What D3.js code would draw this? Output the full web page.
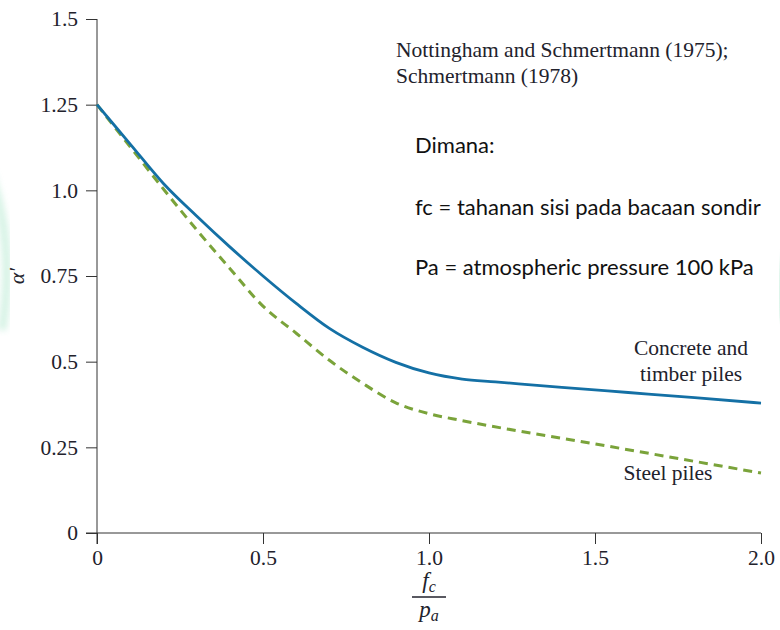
<!DOCTYPE html>
<html>
<head>
<meta charset="utf-8">
<script src="https://cdn.jsdelivr.net/npm/d3@7"></script>
<style>
  body { margin: 0; background: #fff; }
  svg { display: block; }
</style>
</head>
<body>
<svg></svg>
<script>
// alpha' vs fc/pa (Nottingham and Schmertmann 1975; Schmertmann 1978)

const xTicks = [0, 0.5, 1.0, 1.5, 2.0];
const xTickLabels = ["0", "0.5", "1.0", "1.5", "2.0"];
const yTicks = [0, 0.25, 0.5, 0.75, 1.0, 1.25, 1.5];
const yTickLabels = ["0", "0.25", "0.5", "0.75", "1.0", "1.25", "1.5"];

// concrete and timber piles (solid blue)
const concreteX = [0, 0.1, 0.2, 0.3, 0.4, 0.5, 0.6, 0.7, 0.8, 0.9, 1.0, 1.1, 1.2, 1.4, 1.6, 1.8, 2.0];
const concreteY = [1.25, 1.135, 1.02, 0.925, 0.835, 0.75, 0.67, 0.597, 0.542, 0.498, 0.467, 0.449, 0.441, 0.425, 0.41, 0.395, 0.379];

// steel piles (dashed green)
const steelX = [0, 0.1, 0.2, 0.3, 0.4, 0.5, 0.6, 0.7, 0.8, 0.9, 1.0, 1.1, 1.5, 2.0];
const steelY = [1.25, 1.127, 1.004, 0.885, 0.772, 0.662, 0.583, 0.504, 0.437, 0.38, 0.348, 0.328, 0.26, 0.175];

function main() {
    const canvasWidth = 780;
    const canvasHeight = 630;
    const marginLeft = 97;
    const marginRight = 16;
    const marginTop = 19;
    const marginBot = 97;

    let svg = d3.select("svg")
        .attr("width", canvasWidth)
        .attr("height", canvasHeight);

    // faint green watermark bits at the page edges
    let defs = svg.append("defs");
    defs.append("filter").attr("id", "soft")
        .append("feGaussianBlur").attr("stdDeviation", 3);
    svg.append("path")
        .attr("d", "M-20,150 Q18,230 2,330")
        .attr("fill", "none")
        .attr("stroke", "#c6eedb")
        .attr("stroke-width", 9)
        .attr("filter", "url(#soft)")
        .attr("opacity", 0.7);
    svg.append("path")
        .attr("d", "M788,255 Q774,285 784,320")
        .attr("fill", "none")
        .attr("stroke", "#c6eedb")
        .attr("stroke-width", 7)
        .attr("filter", "url(#soft)")
        .attr("opacity", 0.8);

    let xScale = d3.scaleLinear()
        .domain([0, 2])
        .range([marginLeft, canvasWidth - marginRight - 3]);
    let yScale = d3.scaleLinear()
        .domain([0, 1.5])
        .range([canvasHeight - marginBot - 0, marginTop]);

    const serif = "'Liberation Serif', 'Times New Roman', serif";
    const textColor = "#22222c";
    const serifSize = 21.5;

    // x axis
    let xAxis = svg.append("g")
        .attr("transform", `translate(0, ${yScale(0)})`)
        .call(d3.axisBottom(xScale)
            .tickValues(xTicks)
            .tickFormat((d, i) => xTickLabels[i])
            .tickSize(11)
            .tickSizeOuter(0)
            .tickPadding(6));
    xAxis.select(".domain").attr("stroke", "#333").attr("d", `M${marginLeft - 11},0H${xScale(2)}`);
    xAxis.selectAll(".tick line").attr("stroke", "#333");
    xAxis.selectAll("text")
        .attr("font-family", serif)
        .attr("font-size", serifSize)
        .attr("fill", textColor);

    // y axis
    let yAxis = svg.append("g")
        .attr("transform", `translate(${marginLeft}, 0)`)
        .call(d3.axisLeft(yScale)
            .tickValues(yTicks)
            .tickFormat((d, i) => yTickLabels[i])
            .tickSize(11)
            .tickSizeOuter(0)
            .tickPadding(8));
    yAxis.select(".domain").attr("stroke", "#333").attr("d", `M0,${yScale(1.5)}V${yScale(0) + 11}`);
    yAxis.selectAll(".tick line").attr("stroke", "#333");
    yAxis.selectAll("text")
        .attr("font-family", serif)
        .attr("font-size", serifSize)
        .attr("fill", textColor);

    // lines
    let line = d3.line()
        .x(d => xScale(d[0]))
        .y(d => yScale(d[1]))
        .curve(d3.curveMonotoneX);

    svg.append("path")
        .datum(steelX.map((x, i) => [x, steelY[i]]))
        .attr("fill", "none")
        .attr("stroke", "#7aa33a")
        .attr("stroke-width", 3)
        .attr("stroke-dasharray", "9,6")
        .attr("d", line);

    svg.append("path")
        .datum(concreteX.map((x, i) => [x, concreteY[i]]))
        .attr("fill", "none")
        .attr("stroke", "#1470a5")
        .attr("stroke-width", 2.8)
        .attr("d", line);

    // source note
    svg.append("text")
        .attr("x", 396).attr("y", 57)
        .attr("font-family", serif).attr("font-size", serifSize).attr("fill", textColor)
        .text("Nottingham and Schmertmann (1975);");
    svg.append("text")
        .attr("x", 396).attr("y", 83)
        .attr("font-family", serif).attr("font-size", serifSize).attr("fill", textColor)
        .text("Schmertmann (1978)");

    // notes in Indonesian
    const sans = "Lato, 'Open Sans', sans-serif";
    const notes = [
        ["Dimana:", 153],
        ["fc = tahanan sisi pada bacaan sondir", 215],
        ["Pa = atmospheric pressure 100 kPa", 275]
    ];
    notes.forEach(n => {
        svg.append("text")
            .attr("x", 415).attr("y", n[1])
            .attr("font-family", sans).attr("font-size", 22).attr("fill", "#111")
            .text(n[0]);
    });

    // curve labels
    [["Concrete and", 355], ["timber piles", 381]].forEach(t => {
        svg.append("text")
            .attr("x", 691).attr("y", t[1])
            .attr("text-anchor", "middle")
            .attr("font-family", serif).attr("font-size", serifSize).attr("fill", textColor)
            .text(t[0]);
    });
    svg.append("text")
        .attr("x", 668).attr("y", 480)
        .attr("text-anchor", "middle")
        .attr("font-family", serif).attr("font-size", serifSize).attr("fill", textColor)
        .text("Steel piles");

    // y axis title  (alpha prime)
    svg.append("text")
        .attr("transform", `translate(24, ${yScale(0.75)}) rotate(-90)`)
        .attr("text-anchor", "middle")
        .attr("font-family", serif).attr("font-size", 22).attr("font-style", "italic").attr("fill", textColor)
        .text("α′");

    // x axis title: fc / pa as a fraction
    const xMid = xScale(1.0);
    let num = svg.append("text")
        .attr("x", xMid).attr("y", 588)
        .attr("text-anchor", "middle")
        .attr("font-family", serif).attr("font-size", 23).attr("font-style", "italic").attr("fill", textColor);
    num.append("tspan").text("f");
    num.append("tspan").attr("font-size", 16).attr("dy", 4).text("c");
    svg.append("line")
        .attr("x1", xMid - 17).attr("x2", xMid + 17)
        .attr("y1", 597).attr("y2", 597)
        .attr("stroke", textColor).attr("stroke-width", 1.3);
    let den = svg.append("text")
        .attr("x", xMid).attr("y", 617)
        .attr("text-anchor", "middle")
        .attr("font-family", serif).attr("font-size", 23).attr("font-style", "italic").attr("fill", textColor);
    den.append("tspan").text("p");
    den.append("tspan").attr("font-size", 16).attr("dy", 4).text("a");
}

main();
</script>
</body>
</html>
